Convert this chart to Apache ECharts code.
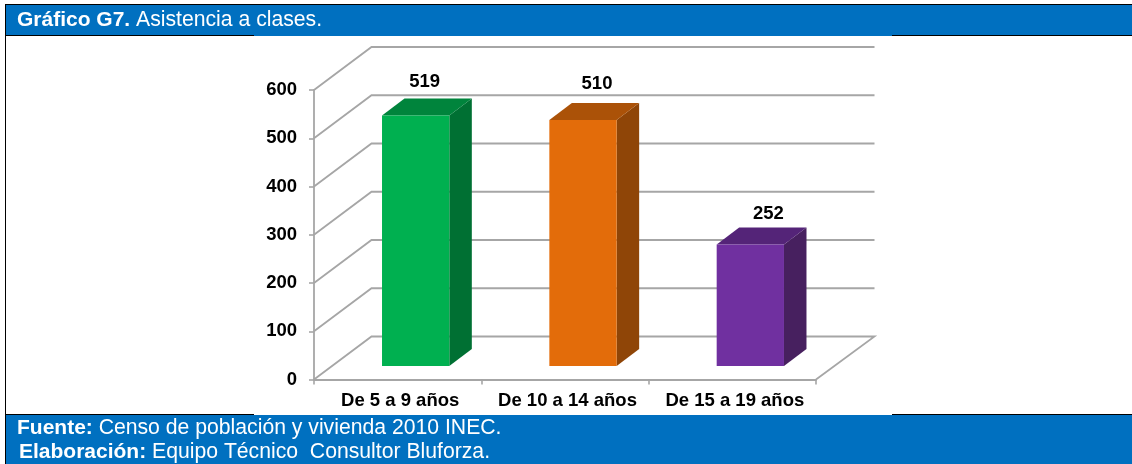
<!DOCTYPE html>
<html>
<head>
<meta charset="utf-8">
<title>Asistencia a clases</title>
<script src="https://cdn.jsdelivr.net/npm/echarts@6/dist/echarts.min.js"></script>
<style>
    html, body {margin: 0; padding: 0; background: #fff;}
    #chart {width: 1132px; height: 464px;}
</style>
</head>
<body>
<div id="chart"></div>
<script>
const categories = ['De 5 a 9 años', 'De 10 a 14 años', 'De 15 a 19 años'];
const values = [519, 510, 252];
const yTicks = [0, 100, 200, 300, 400, 500, 600];
const faceColors = ['#00b050', '#e36c0a', '#7030a0'];
const topColors = ['#00843c', '#ab5208', '#542478'];
const sideColors = ['#007033', '#8f4507', '#47205f'];

const font = 'Liberation Sans';
const blue = '#0070c0';
const wallDx = 57.5, wallDy = 43;    // floor depth in px
const barIn = 18, barUp = 13.5;      // bar front sits this far behind the axis plane
const barDx = 22.5, barDy = 17;      // bar depth
const barW = 67.3;
const labelShift = [9, 14, 18];
const labelUp = [17, 19, 14];

const myChart = echarts.init(document.getElementById('chart'));

function renderWall(params, api) {
    const p = api.coord([categories[0], api.value(0)]);
    const size = api.size([1, 0])[0];
    const x0 = p[0] - size / 2;
    const x1 = x0 + size * categories.length;
    const y = p[1];
    const pts = [[x0, y], [x0 + wallDx, y - wallDy], [x1 + wallDx + 1, y - wallDy]];
    if (api.value(0) === 0) {
        pts.push([x1, y]);
    }
    return {
        type: 'polyline',
        shape: {points: pts},
        style: {fill: null, stroke: '#a6a6a6', lineWidth: 1.8}
    };
}

function renderBar(params, api) {
    const i = params.dataIndex;
    const p = api.coord([api.value(0), api.value(1)]);
    const base = api.coord([api.value(0), 0]);
    const l = p[0] - barW / 2 + barIn;
    const r = l + barW;
    const t = p[1] - barUp;
    const b = base[1] - barUp;
    return {
        type: 'group',
        children: [{
            type: 'polygon',
            shape: {points: [[r, t], [r + barDx, t - barDy], [r + barDx, b - barDy], [r, b]]},
            style: {fill: sideColors[i]}
        }, {
            type: 'polygon',
            shape: {points: [[l, t], [l + barDx, t - barDy], [r + barDx, t - barDy], [r, t]]},
            style: {fill: topColors[i]}
        }, {
            type: 'rect',
            shape: {x: l, y: t, width: barW, height: b - t},
            style: {fill: faceColors[i]}
        }, {
            type: 'text',
            style: {
                x: p[0] + barIn + labelShift[i],
                y: t - barDy - labelUp[i],
                text: String(api.value(1)),
                align: 'center',
                verticalAlign: 'middle',
                fill: '#000',
                font: 'bold 18.5px "' + font + '"'
            }
        }]
    };
}

const textRich = {
    b: {font: 'bold 21px "' + font + '"', fill: '#fff'},
    n: {font: '21.2px "' + font + '"', fill: '#fff'}
};

myChart.setOption({
    animation: false,
    backgroundColor: '#fff',
    grid: {left: 314, right: 316, top: 90, bottom: 84.5},
    xAxis: {
        type: 'category',
        data: categories,
        axisLine: {lineStyle: {color: '#a6a6a6', width: 1.8}},
        axisTick: {show: true, length: 5, lineStyle: {color: '#a6a6a6', width: 1.6}},
        axisLabel: {color: '#000', fontFamily: font, fontWeight: 'bold', fontSize: 18.5, margin: 12, padding: [0, 0, 0, 5], interval: 0}
    },
    yAxis: {
        type: 'value',
        min: 0,
        max: 600,
        interval: 100,
        axisLine: {show: true, lineStyle: {color: '#a6a6a6', width: 1.8}},
        axisTick: {show: true, length: 5, lineStyle: {color: '#a6a6a6', width: 1.6}},
        splitLine: {show: false},
        axisLabel: {color: '#000', fontFamily: font, fontWeight: 'bold', fontSize: 18.5, margin: 17, padding: [2, 0, 0, 0]}
    },
    series: [{
        type: 'custom',
        renderItem: renderWall,
        data: yTicks.map(v => [v]),
        encode: {y: 0},
        z: 1,
        silent: true
    }, {
        type: 'custom',
        renderItem: renderBar,
        data: categories.map((c, i) => [c, values[i]]),
        encode: {x: 0, y: 1},
        z: 3,
        silent: true
    }],
    graphic: [
        {type: 'rect', z: 10, shape: {x: 5, y: 4, width: 1127, height: 32}, style: {fill: '#000'}},
        {type: 'rect', z: 11, shape: {x: 6, y: 5, width: 1126, height: 30}, style: {fill: blue}},
        {type: 'rect', z: 11, shape: {x: 254, y: 35, width: 638, height: 1}, style: {fill: blue}},
        {type: 'rect', z: 10, shape: {x: 5, y: 4, width: 1, height: 460}, style: {fill: '#000'}},
        {type: 'rect', z: 10, shape: {x: 6, y: 414, width: 248, height: 1}, style: {fill: '#000'}},
        {type: 'rect', z: 10, shape: {x: 892, y: 414, width: 240, height: 1}, style: {fill: '#000'}},
        {type: 'rect', z: 11, shape: {x: 6, y: 415, width: 1126, height: 49}, style: {fill: blue}},
        {
            type: 'text', z: 12, x: 17, y: 20,
            style: {rich: textRich, text: '{b|Gráfico G7. }{n|Asistencia a clases.}', verticalAlign: 'middle'}
        },
        {
            type: 'text', z: 12, x: 17, y: 428,
            style: {rich: textRich, text: '{b|Fuente: }{n|Censo de población y vivienda 2010 INEC.}', verticalAlign: 'middle'}
        },
        {
            type: 'text', z: 12, x: 19, y: 452,
            style: {rich: textRich, text: '{b|Elaboración: }{n|Equipo Técnico  Consultor Bluforza.}', verticalAlign: 'middle'}
        }
    ]
});
</script>
</body>
</html>
